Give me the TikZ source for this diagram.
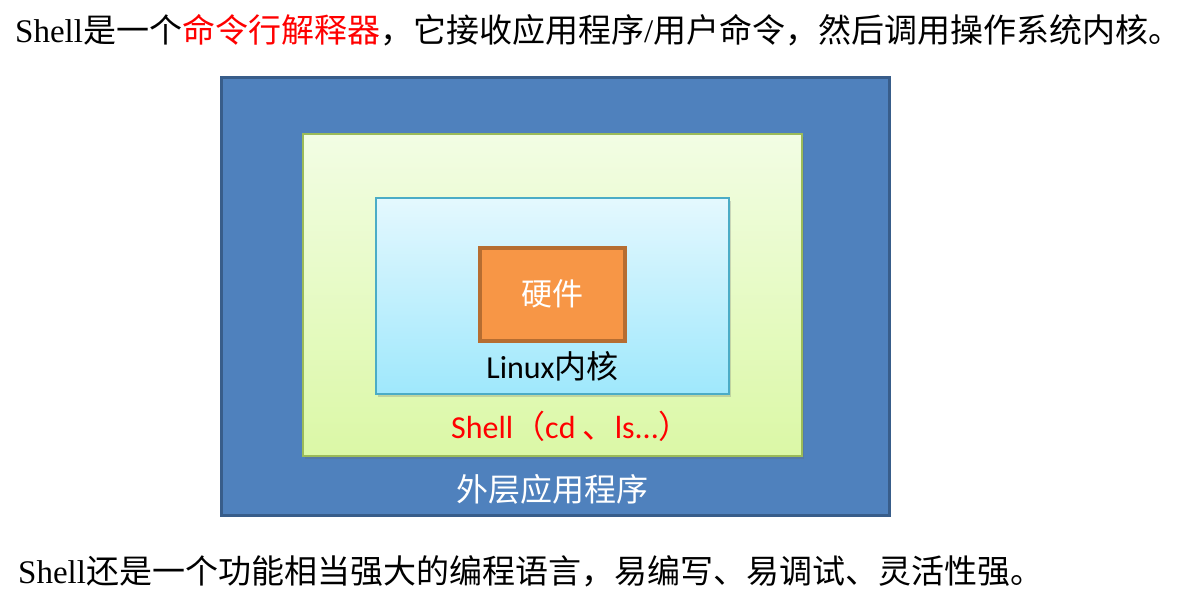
\documentclass[tikz,border=0pt]{standalone}
\usepackage{fontspec}
\setmainfont{Liberation Serif}
\newfontfamily\cjk{Noto Sans CJK SC}
\newfontfamily\calfont{Carlito}
\usetikzlibrary{shadows}
\definecolor{outerfill}{HTML}{4F81BD}
\definecolor{outerline}{HTML}{385D8A}
\definecolor{greenline}{HTML}{9BBB59}
\definecolor{greentop}{HTML}{F2FDE4}
\definecolor{greenbot}{HTML}{DBF8A6}
\definecolor{cyanline}{HTML}{4BACC6}
\definecolor{cyantop}{HTML}{E4F8FE}
\definecolor{cyanbot}{HTML}{9FE8FC}
\definecolor{orangefill}{HTML}{F79646}
\definecolor{orangeline}{HTML}{B66D31}
\begin{document}
\begin{tikzpicture}[x=1pt,y=-1pt,
  layer/.style={rectangle, inner sep=0pt, outer sep=0pt},
  shad/.style={drop shadow={shadow xshift=2pt, shadow yshift=-3pt, opacity=0.25, fill=black!60}}]
\useasboundingbox (0,0) rectangle (1183,592);
\fill[white] (0,0) rectangle (1183,592);
% layers
\node[layer, draw=outerline, line width=3pt, fill=outerfill,
  minimum width=668pt, minimum height=438pt] (outer) at (555,296) {};
\node[layer, shad, draw=greenline, line width=2.5pt, top color=greentop, bottom color=greenbot,
  minimum width=499pt, minimum height=322pt] (shell) at (552.5,295) {};
\node[layer, shad, draw=cyanline, line width=2.5pt, top color=cyantop, bottom color=cyanbot,
  minimum width=353pt, minimum height=196pt] (kernel) at (552.5,296) {};
\node[layer, draw=orangeline, line width=4pt, fill=orangefill,
  minimum width=145pt, minimum height=93pt] (hw) at (552.5,294.5) {};
% inner labels
\node[anchor=base, text=white, inner sep=0pt] (hwlabel) at (552.5,305)
  {\fontsize{31}{31}\selectfont\cjk 硬件};
\node[anchor=base, text=black, inner sep=0pt] (kernellabel) at (552.5,378)
  {\fontsize{32}{32}\selectfont\calfont Linux{\cjk 内核}};
\node[anchor=base, text=red, inner sep=0pt] (shelllabel) at (571,438)
  {\fontsize{32}{32}\selectfont\calfont Shell{\cjk （}cd {\cjk 、}ls...{\cjk ）}};
\node[anchor=base, text=white, inner sep=0pt] (outerlabel) at (552.5,501)
  {\fontsize{32}{32}\selectfont\cjk 外层应用程序};
% captions
\node[anchor=base west, inner sep=0pt] (top) at (15,42)
  {\fontsize{33}{33}\selectfont Shell{\cjk 是一个{\color{red}命令行解释器}，它接收应用程序}/{\cjk 用户命令，然后调用操作系统内核。}};
\node[anchor=base west, inner sep=0pt] (bottom) at (18,583)
  {\fontsize{33}{33}\selectfont Shell{\cjk 还是一个功能相当强大的编程语言，易编写、易调试、灵活性强。}};
\end{tikzpicture}
\end{document}
